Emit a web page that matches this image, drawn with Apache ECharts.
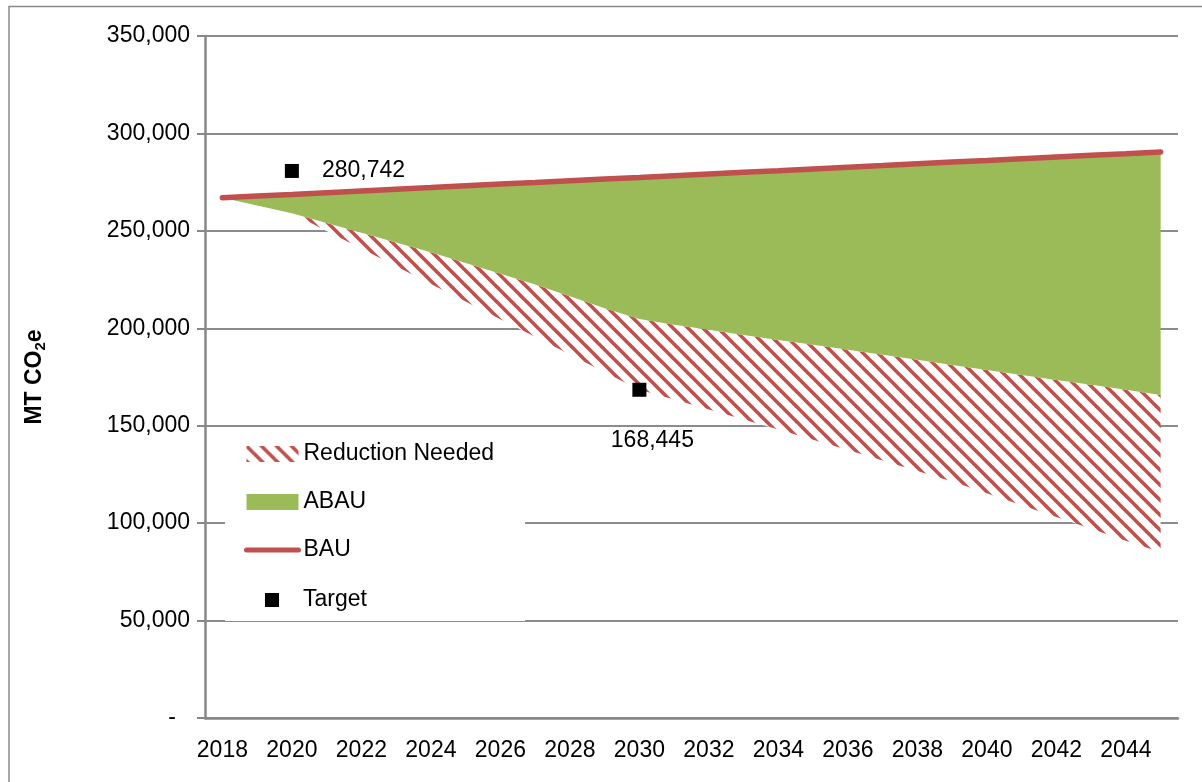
<!DOCTYPE html>
<html>
<head>
<meta charset="utf-8">
<script src="https://cdn.jsdelivr.net/npm/echarts@6/dist/echarts.min.js"></script>
<style>
  html, body { margin: 0; padding: 0; background: #fff; }
  #main { width: 1202px; height: 782px; }
</style>
</head>
<body>
<div id="main"></div>
<script>
// years on the category axis
var years = ['2018', '2019', '2020', '2021', '2022', '2023', '2024', '2025', '2026', '2027',
  '2028', '2029', '2030', '2031', '2032', '2033', '2034', '2035', '2036', '2037',
  '2038', '2039', '2040', '2041', '2042', '2043', '2044', '2045'];

// business as usual (red line, top of green area)
var bau = [267000, 267900, 268700, 269600, 270500, 271400, 272200, 273100, 274000, 274800,
  275700, 276600, 277400, 278300, 279200, 280100, 280900, 281800, 282700, 283500,
  284400, 285300, 286100, 287000, 287900, 288800, 289600, 290500];

// adjusted BAU (bottom of the green area)
var abau = [267000, 263000, 259000, 254000, 249000, 244000, 239000, 233500, 228000, 222500,
  216500, 210300, 204800, 201800, 199200, 196600, 194000, 191500, 189000, 186400,
  183800, 181200, 178600, 176000, 173500, 171000, 168400, 165800];

// target path (bottom of the hatched area)
var targetPath = [267000, 263000, 259000, 249900, 240900, 231800, 222700, 213700, 204600, 195600,
  186500, 177500, 168445, 163500, 158300, 153200, 148000, 142800, 137500, 132200,
  126800, 121400, 115300, 109200, 103200, 97100, 91000, 85000];

// target points
var targetYears = ['2020', '2030'];
var targetValues = [280742, 168445];

var yTicks = { min: 0, max: 350000, step: 50000 };

var FONT = '"Liberation Sans", Arial, sans-serif';
var RED = '#C0504D';
var GREEN = '#9BBB59';
var GRAY = '#878787';

// hatch pattern for "Reduction Needed"
function makeHatch() {
  var c = document.createElement('canvas');
  c.width = 15; c.height = 15;
  var ctx = c.getContext('2d');
  ctx.fillStyle = '#fff';
  ctx.fillRect(0, 0, 15, 15);
  ctx.strokeStyle = RED;
  ctx.lineWidth = 3.6;
  [-15, 0, 15].forEach(function (k) {
    ctx.beginPath();
    ctx.moveTo(-5, -5 + k);
    ctx.lineTo(20, 20 + k);
    ctx.stroke();
  });
  return c;
}
var hatch = { image: makeHatch(), repeat: 'repeat' };

var reduction = abau.map(function (v, i) { return v - targetPath[i]; });
var wedge = bau.map(function (v, i) { return v - abau[i]; });

var myChart = echarts.init(document.getElementById('main'));

var fmt = function (v) { return Number(v).toLocaleString('en-US'); };

var labelText = { fontFamily: FONT, fontSize: 23, color: '#000' };

var option = {
  animation: false,
  textStyle: { fontFamily: FONT },
  grid: { left: 205, top: 36, right: 24, bottom: 64 },
  graphic: [
    {
      type: 'rect', z: 0,
      shape: { x: 9, y: 6.5, width: 1300, height: 900 },
      style: { fill: 'none', stroke: '#8a8a8a', lineWidth: 1.5 }
    },
    {
      type: 'rect', z: 1,
      shape: { x: 225, y: 432, width: 300, height: 189 },
      style: { fill: '#fff' }
    }
  ],
  legend: [
    {
      data: [
        { name: 'Reduction Needed', icon: 'rect', itemStyle: { color: hatch } },
        { name: 'ABAU', icon: 'rect', itemStyle: { color: GREEN } },
        { name: 'BAU', itemStyle: { opacity: 0 }, lineStyle: { color: RED, width: 5, cap: 'round' } }
      ],
      orient: 'vertical',
      left: 244, top: 442, padding: 0,
      itemWidth: 52, itemHeight: 16, itemGap: 24,
      selectedMode: false,
      textStyle: { fontFamily: FONT, fontSize: 23, lineHeight: 24, color: '#000' }
    },
    {
      data: ['Target'],
      orient: 'vertical',
      left: 265, top: 588, padding: 0,
      itemWidth: 14, itemHeight: 14,
      itemStyle: { opacity: 1 },
      selectedMode: false,
      textStyle: { fontFamily: FONT, fontSize: 23, lineHeight: 24, color: '#000', padding: [0, 0, 0, 19] }
    }
  ],
  xAxis: {
    type: 'category',
    data: years,
    boundaryGap: true,
    axisLine: { lineStyle: { color: GRAY, width: 2.5 } },
    axisTick: { interval: 1, length: 8, lineStyle: { color: GRAY, width: 2 } },
    axisLabel: { interval: 1, margin: 21, fontSize: 23, color: '#000', fontFamily: FONT },
    splitLine: { show: false }
  },
  yAxis: {
    type: 'value',
    min: yTicks.min, max: yTicks.max, interval: yTicks.step,
    name: 'MT CO{s|2}e',
    nameLocation: 'middle',
    nameGap: 157,
    nameTextStyle: {
      fontFamily: FONT, fontSize: 23, fontWeight: 'bold', color: '#000',
      lineHeight: 26, verticalAlign: 'bottom',
      rich: {
        s: { fontFamily: FONT, fontSize: 15, fontWeight: 'bold', color: '#000', lineHeight: 15, verticalAlign: 'bottom' }
      }
    },
    axisLine: { show: true, lineStyle: { color: GRAY, width: 2.5 } },
    axisTick: { show: true, length: 8, lineStyle: { color: GRAY, width: 2 } },
    axisLabel: {
      margin: 15, fontSize: 23, color: '#000', fontFamily: FONT,
      formatter: function (v) { return v === 0 ? '{d|-}' : fmt(v); },
      rich: { d: { fontSize: 23, fontFamily: FONT, color: '#000', padding: [0, 14, 0, 0] } }
    },
    splitLine: { lineStyle: { color: '#8c8c8c', width: 2 } }
  },
  series: [
    {
      name: 'base', type: 'line', stack: 'total', data: targetPath,
      symbol: 'none', lineStyle: { width: 0, opacity: 0 }, silent: true
    },
    {
      name: 'Reduction Needed', type: 'line', stack: 'total', data: reduction,
      symbol: 'none', itemStyle: { color: RED },
      lineStyle: { width: 0, opacity: 0 },
      areaStyle: { color: hatch, opacity: 1 }
    },
    {
      name: 'ABAU', type: 'line', stack: 'total', data: wedge,
      symbol: 'none', itemStyle: { color: GREEN },
      lineStyle: { width: 0, opacity: 0 },
      areaStyle: { color: GREEN, opacity: 1 }
    },
    {
      name: 'BAU', type: 'line', data: bau, z: 5,
      symbol: 'none', itemStyle: { color: RED },
      lineStyle: { color: RED, width: 5.5, cap: 'round' }
    },
    {
      name: 'Target', type: 'scatter', z: 6,
      symbol: 'rect', symbolSize: 14,
      itemStyle: { color: '#000', opacity: 1 },
      data: [
        {
          value: [targetYears[0], targetValues[0]],
          label: Object.assign({ show: true, position: 'right', distance: 23 }, labelText)
        },
        {
          value: [targetYears[1], targetValues[1]],
          label: Object.assign({ show: true, position: 'bottom', distance: 32, offset: [13, 0] }, labelText)
        }
      ],
      label: Object.assign({
        formatter: function (p) { return fmt(p.value[1]); }
      }, labelText)
    }
  ]
};

myChart.setOption(option);
</script>
</body>
</html>
